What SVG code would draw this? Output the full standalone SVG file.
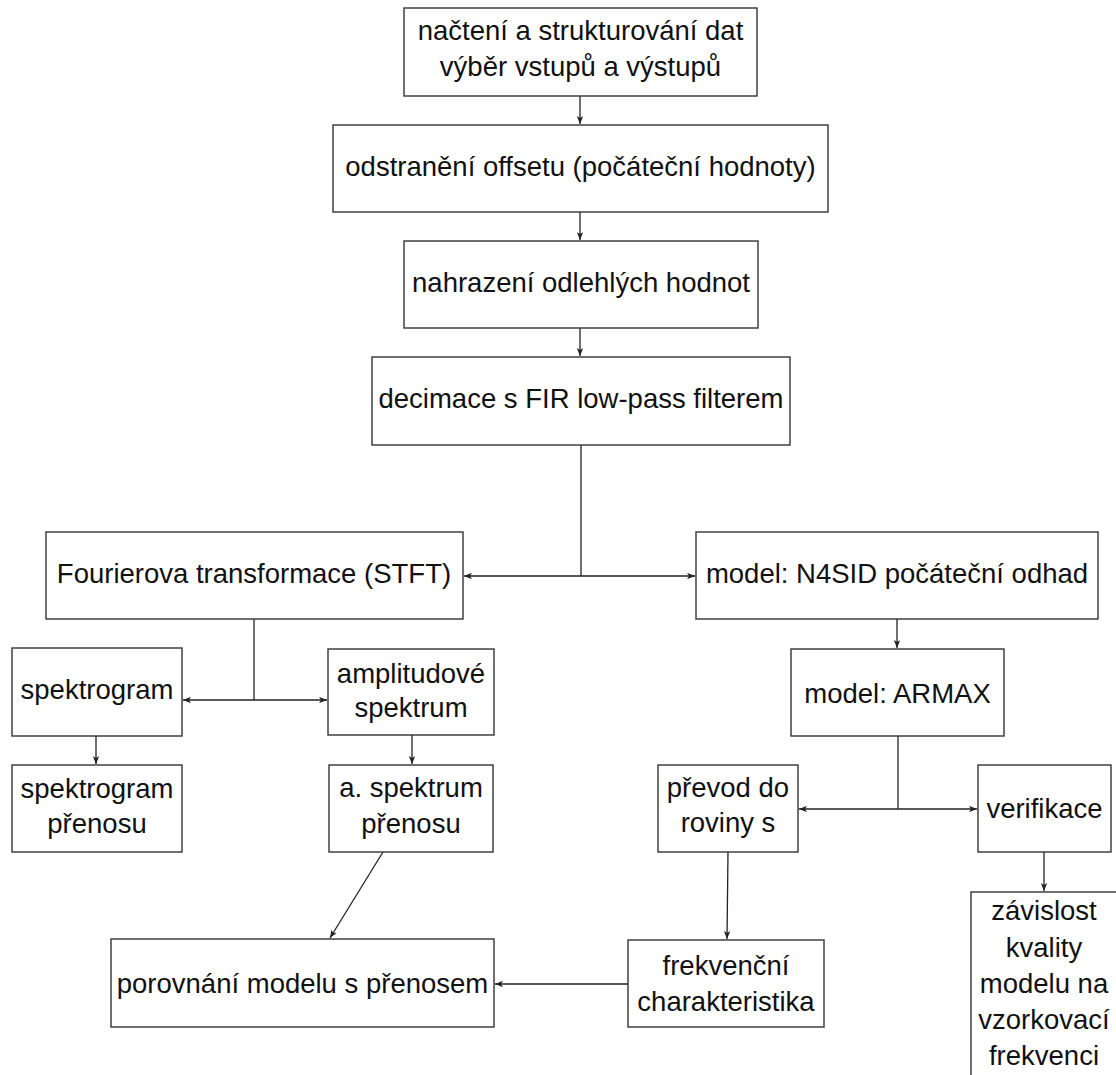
<svg xmlns="http://www.w3.org/2000/svg" width="1116" height="1075" viewBox="0 0 1116 1075">
<defs>
<marker id="ah" viewBox="0 0 10 8" refX="10" refY="4" markerWidth="8" markerHeight="6.4" markerUnits="userSpaceOnUse" orient="auto">
<path d="M0,0 L10,4 L0,8 L2.5,4 z" fill="#222"/>
</marker>
<style>
.box{fill:#fff;stroke:#333;stroke-width:1.4}
.t{font-family:"Liberation Sans",Arial,sans-serif;font-size:27.5px;fill:#111;text-anchor:middle}
.c{fill:none;stroke:#222;stroke-width:1.3}
.a{fill:none;stroke:#222;stroke-width:1.3;marker-end:url(#ah)}
</style>
</defs>
<rect width="1116" height="1075" fill="#fff"/>
<g id="connectors">
<line class="a" x1="580" y1="96" x2="580" y2="124"/>
<line class="a" x1="580" y1="212" x2="580" y2="240"/>
<line class="a" x1="580" y1="328" x2="580" y2="356"/>
<line class="c" x1="581" y1="445" x2="581" y2="576"/>
<line class="a" x1="581" y1="576" x2="464" y2="576"/>
<line class="a" x1="581" y1="576" x2="695" y2="576"/>
<line class="c" x1="254" y1="619" x2="254" y2="700"/>
<line class="a" x1="254" y1="700" x2="183" y2="700"/>
<line class="a" x1="254" y1="700" x2="327" y2="700"/>
<line class="a" x1="96" y1="736" x2="96" y2="764"/>
<line class="a" x1="412" y1="735" x2="412" y2="764"/>
<line class="a" x1="383" y1="852" x2="330" y2="938"/>
<line class="a" x1="897" y1="619" x2="897" y2="648"/>
<line class="c" x1="898" y1="736" x2="898" y2="809"/>
<line class="a" x1="898" y1="809" x2="799" y2="809"/>
<line class="a" x1="898" y1="809" x2="977" y2="809"/>
<line class="a" x1="728" y1="852" x2="727" y2="939"/>
<line class="a" x1="1044" y1="852" x2="1044" y2="891"/>
<line class="a" x1="628" y1="984" x2="495" y2="984"/>
</g>
<g id="n1"><rect class="box" x="404" y="8" width="353" height="88"/>
<text class="t" x="580.5" y="40">načtení a strukturování dat</text>
<text class="t" x="580.5" y="76">výběr vstupů a výstupů</text></g>
<g id="n2"><rect class="box" x="333" y="125" width="495" height="87"/>
<text class="t" x="580.5" y="176">odstranění offsetu (počáteční hodnoty)</text></g>
<g id="n3"><rect class="box" x="404" y="241" width="354" height="87"/>
<text class="t" x="581" y="292">nahrazení odlehlých hodnot</text></g>
<g id="n4"><rect class="box" x="372" y="357" width="418" height="88"/>
<text class="t" x="581" y="408">decimace s FIR low-pass filterem</text></g>
<g id="n5"><rect class="box" x="46" y="532" width="417" height="87"/>
<text class="t" x="254" y="583">Fourierova transformace (STFT)</text></g>
<g id="n6"><rect class="box" x="696" y="532" width="402" height="87"/>
<text class="t" x="897" y="583">model: N4SID počáteční odhad</text></g>
<g id="n7"><rect class="box" x="12" y="648" width="170" height="88"/>
<text class="t" x="97" y="699">spektrogram</text></g>
<g id="n8"><rect class="box" x="328" y="649" width="166" height="86"/>
<text class="t" x="411" y="683">amplitudové</text>
<text class="t" x="411" y="717">spektrum</text></g>
<g id="n9"><rect class="box" x="12" y="765" width="170" height="87"/>
<text class="t" x="97" y="798">spektrogram</text>
<text class="t" x="97" y="833">přenosu</text></g>
<g id="n10"><rect class="box" x="329" y="765" width="164" height="87"/>
<text class="t" x="411" y="797">a. spektrum</text>
<text class="t" x="411" y="833">přenosu</text></g>
<g id="n11"><rect class="box" x="791" y="649" width="213" height="87"/>
<text class="t" x="897.5" y="703">model: ARMAX</text></g>
<g id="n12"><rect class="box" x="658" y="765" width="140" height="87"/>
<text class="t" x="728" y="797">převod do</text>
<text class="t" x="728" y="832">roviny s</text></g>
<g id="n13"><rect class="box" x="978" y="765" width="133" height="87"/>
<text class="t" x="1044.5" y="818">verifikace</text></g>
<g id="n14"><rect class="box" x="111" y="939" width="383" height="88"/>
<text class="t" x="302.5" y="993">porovnání modelu s přenosem</text></g>
<g id="n15"><rect class="box" x="628" y="940" width="196" height="87"/>
<text class="t" x="726" y="975">frekvenční</text>
<text class="t" x="726" y="1011">charakteristika</text></g>
<g id="n16"><rect class="box" x="971" y="892" width="146" height="200"/>
<text class="t" x="1044" y="920">závislost</text>
<text class="t" x="1044" y="957">kvality</text>
<text class="t" x="1044" y="993">modelu na</text>
<text class="t" x="1044" y="1029">vzorkovací</text>
<text class="t" x="1044" y="1065">frekvenci</text></g>
</svg>
